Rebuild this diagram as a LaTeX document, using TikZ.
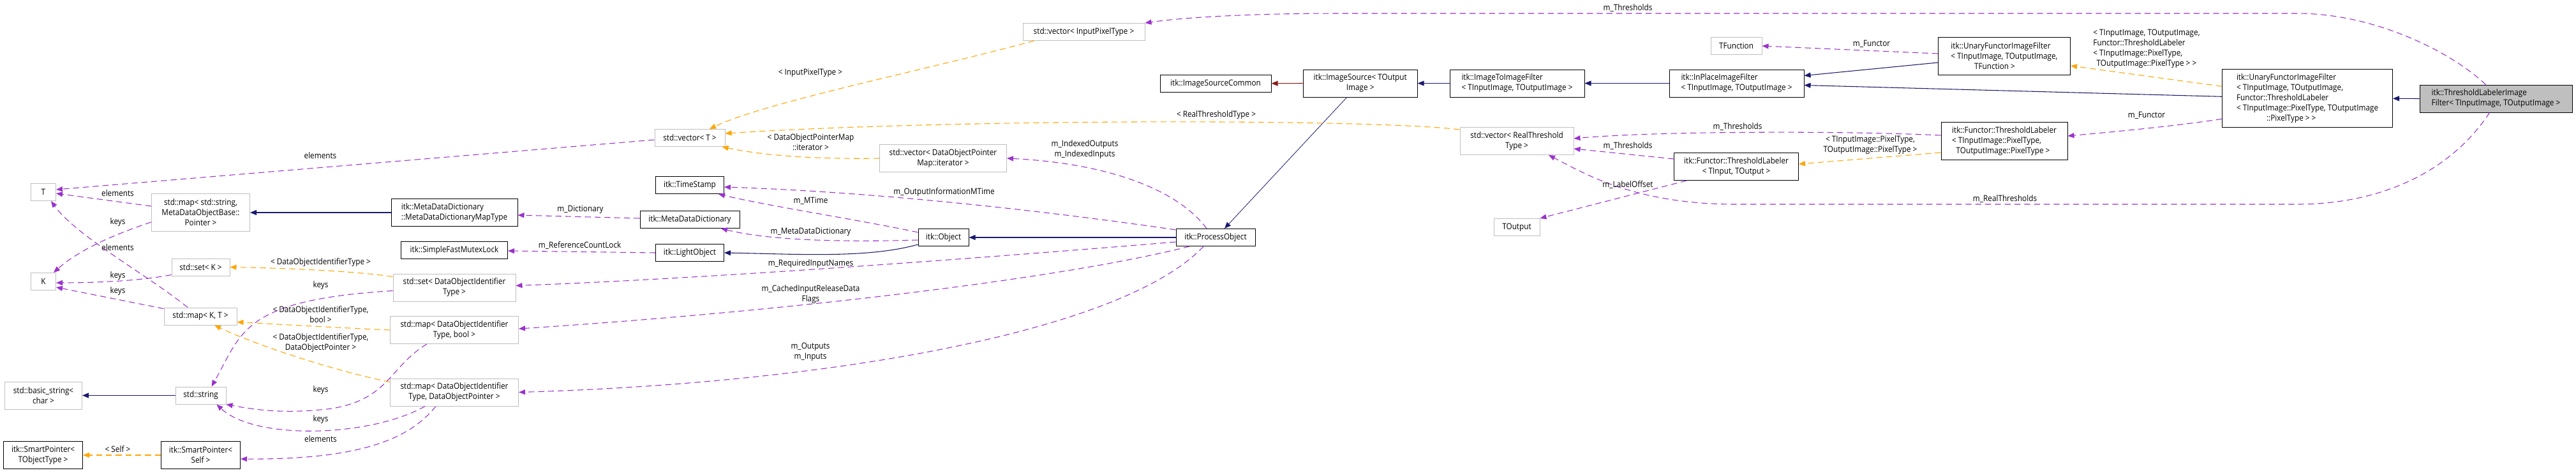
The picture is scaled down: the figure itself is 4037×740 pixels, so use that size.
\documentclass[tikz,border=0pt]{standalone}
\usepackage{fontspec}
\setmainfont[FakeStretch=0.9]{Open Sans}
\usetikzlibrary{arrows.meta,calc}
\definecolor{usecol}{HTML}{9A32CD}
\definecolor{tmplcol}{HTML}{FFA500}
\definecolor{inhcol}{HTML}{191970}
\definecolor{protcol}{HTML}{8B1A1A}
\definecolor{extcol}{HTML}{BFBFBF}

\begin{document}
\begin{tikzpicture}[x=0.75pt, y=-0.75pt, >={Triangle[length=7.5pt,width=6pt]},
    every node/.style={font=\fontsize{9.8}{12}\selectfont},
    cls/.style={draw=black, line width=0.75pt, rectangle, inner sep=2pt, align=center, fill=white},
    ext/.style={cls, draw=extcol},
    wd/.style={minimum width=#1*0.75pt},
    l1/.style={minimum height=20.25pt},
    l2/.style={minimum height=32.25pt},
    l3/.style={minimum height=44.25pt},
    l5/.style={minimum height=68.25pt},
    inh/.style={->, color=inhcol, line width=0.8pt},
    prot/.style={inh, color=protcol},
    tmpl/.style={->, color=tmplcol, line width=0.8pt, dash pattern=on 7pt off 4.5pt},
    use/.style={->, color=usecol, line width=0.8pt, dash pattern=on 7pt off 4.5pt},
    lbl/.style={inner sep=0pt, align=center}]
    \useasboundingbox (0,0) rectangle (4037,740);

    % classes, right part
    \node[cls, fill=extcol, wd=239, l2, align=left] (tlif) at (3911.5,154.5) {itk::ThresholdLabelerImage\\Filter< TInputImage, TOutputImage >};
    \node[cls, wd=267, l5, align=left] (ufiftl) at (3616,154.3) {itk::UnaryFunctorImageFilter\\< TInputImage, TOutputImage,\\ Functor::ThresholdLabeler\\< TInputImage::PixelType, TOutputImage\\ \hspace{3.6em}::PixelType > >};
    \node[cls, wd=207, l3, align=left] (ufiftf) at (3141,88) {itk::UnaryFunctorImageFilter\\< TInputImage, TOutputImage,\\ \hspace{2.8em}TFunction >};
    \node[cls, wd=198, l3, align=left] (ftlpt) at (3141,221) {itk::Functor::ThresholdLabeler\\< TInputImage::PixelType,\\ \hspace{0.5em}TOutputImage::PixelType >};
    \node[ext, wd=80, l1] (tfunc) at (2721,72) {TFunction};
    \node[cls, wd=211, l2, align=left] (inplace) at (2721.5,130.5) {itk::InPlaceImageFilter\\< TInputImage, TOutputImage >};
    \node[cls, wd=195, l2] (ftlio) at (2721,261) {itk::Functor::ThresholdLabeler\\< TInput, TOutput >};
    \node[cls, wd=211, l2, align=left] (i2i) at (2377.5,130.5) {itk::ImageToImageFilter\\< TInputImage, TOutputImage >};
    \node[ext, wd=178, l2] (vecrtt) at (2377,221) {std::vector< RealThreshold\\Type >};
    \node[ext, wd=72, l1] (tout) at (2377,356) {TOutput};
    \node[cls, wd=179, l2] (imgsrc) at (2131.7,130.5) {itk::ImageSource< TOutput\\Image >};
    \node[cls, wd=174, l1] (isc) at (1905,130.7) {itk::ImageSourceCommon};
    \node[cls, wd=124, l1] (procobj) at (1905,372) {itk::ProcessObject};

    % classes, middle part
    \node[ext, wd=191, l1] (vecipt) at (1698.5,50) {std::vector< InputPixelType >};
    \node[ext, wd=199, l2] (vecdopm) at (1478,248) {std::vector< DataObjectPointer\\Map::iterator >};
    \node[cls, wd=79, l1] (object) at (1478.6,372) {itk::Object};
    \node[ext, wd=110, l1] (vect) at (1081,216) {std::vector< T >};
    \node[cls, wd=107, l1] (tstamp) at (1081,290) {itk::TimeStamp};
    \node[cls, wd=156, l1] (mdd) at (1081,344) {itk::MetaDataDictionary};
    \node[cls, wd=107, l1] (lobj) at (1081,396) {itk::LightObject};
    \node[cls, wd=198, l2, align=left] (maptype) at (712,333) {itk::MetaDataDictionary\\::MetaDataDictionaryMapType};
    \node[cls, wd=167, l1] (mutex) at (712,392) {itk::SimpleFastMutexLock};
    \node[ext, wd=192, l2] (setdoit) at (712,450.5) {std::set< DataObjectIdentifier\\Type >};
    \node[ext, wd=201, l2] (mapbool) at (712,517) {std::map< DataObjectIdentifier\\Type, bool >};
    \node[ext, wd=201, l2] (mapdop) at (712,614.5) {std::map< DataObjectIdentifier\\Type, DataObjectPointer >};

    % classes, left part
    \node[ext, wd=154, l3] (mapstr) at (314.5,333) {std::map< std::string,\\MetaDataObjectBase::\\Pointer >};
    \node[ext, wd=91, l1] (setk) at (314.5,418.5) {std::set< K >};
    \node[ext, wd=114, l1] (mapkt) at (314,495.5) {std::map< K, T >};
    \node[ext, wd=79, l1] (str) at (314.5,619.5) {std::string};
    \node[cls, wd=124, l2] (spself) at (314.5,713) {itk::SmartPointer<\\Self >};
    \node[ext, wd=39, l1] (tT) at (68,301) {T};
    \node[ext, wd=39, l1] (tK) at (68,441) {K};
    \node[ext, wd=121, l2] (bstr) at (68,619.5) {std::basic\_string<\\char >};
    \node[cls, wd=124, l2] (spobj) at (67.6,713) {itk::SmartPointer<\\TObjectType >};

    % inheritance
    \draw[inh] (tlif.west) -- (ufiftl.east);
    \draw[inh] ($(ufiftl.west)+(0,-3)$) -- ($(inplace.east)+(0,3)$);
    \draw[inh] ($(ufiftf.west)+(0,10)$) -- ($(inplace.east)+(0,-12)$);
    \draw[inh] (inplace.west) -- (i2i.east);
    \draw[inh] (i2i.west) -- (imgsrc.east);
    \draw[prot] (imgsrc.west) -- (isc.east);
    \draw[inh, line width=0.6pt] ($(imgsrc.south)+(-21,0)$) -- ($(procobj.north)+(14,0)$);
    \draw[inh] (procobj.west) -- (object.east);
    \draw[inh] ($(object.west)+(0,11)$) .. controls (1360,405) and (1250,398) .. (lobj.east);
    \draw[inh] (maptype.west) -- (mapstr.east);
    \draw[inh] (str.west) -- (bstr.east);

    % template instances
    \draw[tmpl] ($(vecipt.south west)+(18,0)$) .. controls (1450,110) and (1200,160) .. ($(vect.north)+(31,0)$);
    \draw[tmpl] ($(vecrtt.north west)+(0,4)$) .. controls (2150,186) and (1500,186) .. ($(vect.east)+(0,-7)$);
    \draw[tmpl] (vecdopm.west) .. controls (1250,250) and (1180,240) .. ($(vect.south east)+(-5,0)$);
    \draw[tmpl] ($(setdoit.north west)+(0,5)$) .. controls (560,425) and (450,420) .. (setk.east);
    \draw[tmpl] (mapbool.west) .. controls (520,513) and (420,507) .. ($(mapkt.east)+(0,9)$);
    \draw[tmpl] ($(mapdop.north west)+(0,6)$) .. controls (520,580) and (400,540) .. ($(mapkt.south)+(22,0)$);
    \draw[tmpl] (spself.west) -- (spobj.east);
    \draw[tmpl] ($(ufiftl.west)+(0,-19)$) -- ($(ufiftf.east)+(0,15)$);
    \draw[tmpl] ($(ftlpt.west)+(0,18)$) -- ($(ftlio.east)+(0,-4)$);

    % members
    \draw[use] ($(tlif.north)+(-16,0)$) .. controls (3840,80) and (3720,21) .. (3600,21) -- (2100,21) .. controls (1950,21) and (1850,28) .. (vecipt.north east);
    \draw[use] ($(tlif.south)+(-10,0)$) .. controls (3840,270) and (3730,320) .. (3600,320) -- (2720,320) .. controls (2560,320) and (2480,270) .. ($(vecrtt.south)+(50,0)$);
    \draw[use] ($(ufiftl.west)+(0,32)$) .. controls (3420,196) and (3330,205) .. ($(ftlpt.east)+(0,-8)$);
    \draw[use] ($(ufiftf.west)+(0,-4)$) -- (tfunc.east);
    \draw[use] ($(ftlpt.west)+(0,-9)$) .. controls (2900,205) and (2600,205) .. ($(vecrtt.east)+(0,-4)$);
    \draw[use] ($(ftlio.west)+(0,-12)$) -- ($(vecrtt.east)+(0,12)$);
    \draw[use] ($(ftlio.south west)+(20,0)$) -- (tout.north east);
    \draw[use] ($(procobj.north west)+(0,2)$) .. controls (1600,325) and (1350,300) .. ($(tstamp.east)+(0,3)$);
    \draw[use] ($(object.north west)+(0,6)$) .. controls (1350,345) and (1200,322) .. ($(tstamp.south east)+(-9,0)$);
    \draw[use] ($(object.west)+(0,4)$) .. controls (1300,380) and (1200,375) .. ($(mdd.south)+(49,0)$);
    \draw[use] ($(mdd.west)+(0,-2)$) -- ($(maptype.east)+(0,4)$);
    \draw[use] (lobj.west) -- ($(mutex.east)+(0,1)$);
    \draw[use] ($(procobj.west)+(0,7)$) .. controls (1650,395) and (1150,435) .. ($(setdoit.east)+(0,-3)$);
    \draw[use] ($(procobj.south)+(-41,0)$) .. controls (1650,440) and (1200,490) .. ($(mapbool.east)+(0,-2)$);
    \draw[use] ($(procobj.south)+(-19,0)$) .. controls (1760,520) and (1300,600) .. (mapdop.east);
    \draw[use] ($(procobj.north)+(-14,0)$) .. controls (1840,290) and (1720,255) .. (vecdopm.east);
    \draw[use] ($(mapstr.west)+(0,-10)$) -- ($(tT.east)+(0,2)$);
    \draw[use] ($(mapstr.west)+(0,15)$) .. controls (170,370) and (120,395) .. ($(tK.north east)+(-4,0)$);
    \draw[use] ($(mapkt.north)+(-20,0)$) .. controls (230,430) and (120,370) .. ($(tT.south)+(12,0)$);
    \draw[use] ($(setk.west)+(0,12)$) .. controls (220,440) and (150,443) .. ($(tK.east)+(0,2)$);
    \draw[use] ($(mapkt.west)+(0,-12)$) -- ($(tK.east)+(0,9)$);
    \draw[use] ($(vect.west)+(0,3)$) -- ($(tT.east)+(0,-4)$);
    \draw[use] ($(setdoit.west)+(0,5)$) .. controls (380,470) and (380,520) .. ($(str.north)+(17,0)$);
    \draw[use] ($(mapbool.south)+(-43,0)$) .. controls (610,575) and (610,625) .. (520,640) .. controls (440,650) and (390,640) .. (str.south east);
    \draw[use] ($(mapdop.south)+(-46,0)$) .. controls (580,685) and (400,690) .. ($(str.south)+(25,0)$);
    \draw[use] ($(mapdop.south)+(-29,0)$) .. controls (640,690) and (560,720) .. ($(spself.east)+(0,6)$);

    % edge labels
    \node[lbl] (lThrA) at (2551,13) {m\_Thresholds};
    \node[lbl] (lRealThr) at (3142,312) {m\_RealThresholds};
    \node[lbl] (lFunA) at (3364,181) {m\_Functor};
    \node[lbl] (lFunB) at (2933,69) {m\_Functor};
    \node[lbl, align=left] (lTmplUf) at (3364,76) {< TInputImage, TOutputImage,\\Functor::ThresholdLabeler\\< TInputImage::PixelType,\\ \hspace{0.4em}TOutputImage::PixelType > >};
    \node[lbl] (lTmplFtl) at (2931,227) {< TInputImage::PixelType,\\TOutputImage::PixelType >};
    \node[lbl] (lThrB) at (2723,199) {m\_Thresholds};
    \node[lbl] (lThrC) at (2551,229) {m\_Thresholds};
    \node[lbl] (lOffset) at (2551,289) {m\_LabelOffset};
    \node[lbl] (lRtt) at (1906,180) {< RealThresholdType >};
    \node[lbl] (lIpt) at (1270,114) {< InputPixelType >};
    \node[lbl] (lDopm) at (1270.5,223) {< DataObjectPointerMap\\::iterator >};
    \node[lbl] (lIdx) at (1700,234) {m\_IndexedOutputs\\m\_IndexedInputs};
    \node[lbl] (lOimt) at (1479.5,301) {m\_OutputInformationMTime};
    \node[lbl] (lMt) at (1270.5,315) {m\_MTime};
    \node[lbl] (lMdd) at (1270.5,363) {m\_MetaDataDictionary};
    \node[lbl] (lReq) at (1270.5,413) {m\_RequiredInputNames};
    \node[lbl] (lCache) at (1270.5,461) {m\_CachedInputReleaseData\\Flags};
    \node[lbl] (lIo) at (1270,551) {m\_Outputs\\m\_Inputs};
    \node[lbl] (lDict) at (909.5,328) {m\_Dictionary};
    \node[lbl] (lLock) at (908.6,384) {m\_ReferenceCountLock};
    \node[lbl] (lElemV) at (502,244) {elements};
    \node[lbl] (lSetK) at (502.5,411) {< DataObjectIdentifierType >};
    \node[lbl] (lKeysA) at (502.5,447) {keys};
    \node[lbl] (lMapB) at (502.5,493) {< DataObjectIdentifierType,\\bool >};
    \node[lbl] (lMapP) at (502.5,537) {< DataObjectIdentifierType,\\DataObjectPointer >};
    \node[lbl] (lKeysB) at (502.5,611) {keys};
    \node[lbl] (lKeysC) at (502.5,657) {keys};
    \node[lbl] (lElemS) at (502.5,688) {elements};
    \node[lbl] (lSelf) at (184.5,704) {< Self >};
    \node[lbl] (lElemA) at (184.5,303) {elements};
    \node[lbl] (lKeysD) at (184.5,348) {keys};
    \node[lbl] (lElemB) at (184.5,388) {elements};
    \node[lbl] (lKeysE) at (184.5,432) {keys};
    \node[lbl] (lKeysF) at (184.5,456) {keys};
\end{tikzpicture}
\end{document}
